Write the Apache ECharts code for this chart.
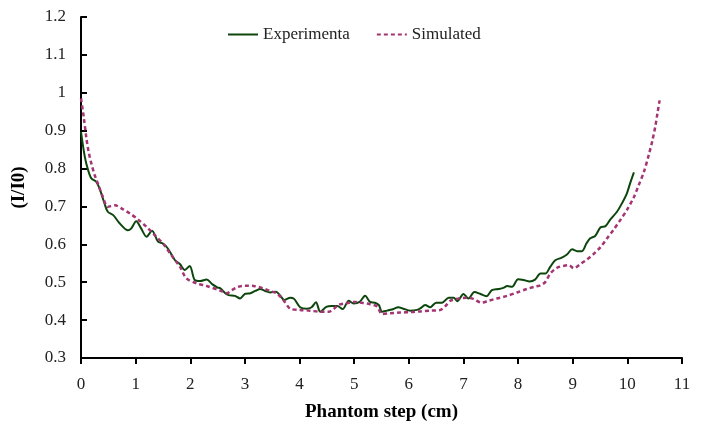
<!DOCTYPE html>
<html lang="en">
<head>
    <meta charset="utf-8">
    <title>Phantom step</title>
    <script src="https://cdn.jsdelivr.net/npm/echarts@6/dist/echarts.min.js"></script>
    <style>
        html, body { margin: 0; padding: 0; background: #fff; }
    </style>
</head>
<body>
<div id="chart" style="width:704px;height:428px;"></div>
<script type="text/javascript">
    // axis ticks
    var xTicks = [0, 1, 2, 3, 4, 5, 6, 7, 8, 9, 10, 11];
    var yTicks = [0.3, 0.4, 0.5, 0.6, 0.7, 0.8, 0.9, 1, 1.1, 1.2];

    var expX = [0, 0.07, 0.13, 0.19, 0.28, 0.34, 0.43, 0.49, 0.59, 0.71, 0.86, 0.92, 1.01, 1.10, 1.20, 1.30,
        1.41, 1.50, 1.59, 1.72, 1.81, 1.90, 1.99, 2.08, 2.18, 2.30, 2.40, 2.50, 2.55, 2.64, 2.70, 2.82, 2.91,
        3.00, 3.10, 3.19, 3.28, 3.37, 3.46, 3.57, 3.64, 3.72, 3.83, 3.90, 4.01, 4.13, 4.22, 4.30, 4.38, 4.49,
        4.59, 4.69, 4.79, 4.90, 4.99, 5.10, 5.20, 5.29, 5.38, 5.45, 5.51, 5.60, 5.69, 5.81, 5.90, 6.03, 6.15,
        6.21, 6.30, 6.39, 6.50, 6.61, 6.73, 6.82, 6.89, 7.00, 7.09, 7.20, 7.31, 7.42, 7.52, 7.64, 7.73, 7.80,
        7.89, 8.00, 8.10, 8.21, 8.31, 8.41, 8.50, 8.59, 8.68, 8.80, 8.90, 8.99, 9.08, 9.17, 9.25, 9.32, 9.41,
        9.51, 9.60, 9.69, 9.81, 9.90, 9.99, 10.05, 10.12];
    var expY = [0.897, 0.831, 0.796, 0.774, 0.765, 0.747, 0.708, 0.686, 0.677, 0.655, 0.637, 0.642, 0.661, 0.642, 0.620, 0.636,
        0.607, 0.602, 0.589, 0.558, 0.548, 0.532, 0.543, 0.506, 0.503, 0.507, 0.495, 0.486, 0.484, 0.471, 0.466, 0.464, 0.457,
        0.469, 0.471, 0.477, 0.482, 0.477, 0.473, 0.475, 0.466, 0.453, 0.459, 0.456, 0.434, 0.430, 0.434, 0.447, 0.422, 0.435,
        0.437, 0.437, 0.429, 0.451, 0.444, 0.448, 0.464, 0.448, 0.446, 0.440, 0.422, 0.425, 0.428, 0.434, 0.430, 0.425, 0.427,
        0.431, 0.440, 0.434, 0.446, 0.446, 0.459, 0.459, 0.450, 0.469, 0.457, 0.474, 0.469, 0.463, 0.479, 0.482, 0.485, 0.490,
        0.488, 0.508, 0.506, 0.502, 0.507, 0.523, 0.523, 0.541, 0.558, 0.565, 0.574, 0.587, 0.582, 0.582, 0.602, 0.616, 0.622,
        0.645, 0.648, 0.666, 0.686, 0.708, 0.734, 0.761, 0.790];

    // simulated curve
    var simX = [0, 0.05, 0.10, 0.14, 0.19, 0.25, 0.32, 0.40, 0.49, 0.62, 0.74, 0.89, 1.04, 1.20, 1.35, 1.50, 1.65,
        1.81, 1.93, 2.12, 2.30, 2.55, 2.67, 2.76, 2.88, 3.00, 3.16, 3.31, 3.46, 3.58, 3.68, 3.74, 3.83, 4.01,
        4.19, 4.38, 4.53, 4.62, 4.71, 4.84, 4.99, 5.14, 5.29, 5.42, 5.51, 5.66, 5.84, 6.03, 6.21, 6.39, 6.58,
        6.67, 6.76, 6.91, 7.06, 7.18, 7.33, 7.46, 7.61, 7.80, 7.98, 8.16, 8.30, 8.41, 8.50, 8.59, 8.71, 8.83,
        8.93, 9.02, 9.14, 9.26, 9.38, 9.51, 9.63, 9.75, 9.87, 9.99, 10.12, 10.21, 10.30, 10.39, 10.46, 10.51,
        10.55, 10.59];
    var simY = [0.985, 0.936, 0.879, 0.844, 0.813, 0.783, 0.756, 0.725, 0.699, 0.703, 0.695, 0.682, 0.666, 0.646, 0.624, 0.602, 0.572,
        0.541, 0.510, 0.497, 0.490, 0.478, 0.471, 0.479, 0.488, 0.491, 0.490, 0.485, 0.477, 0.471, 0.457, 0.446, 0.430, 0.427,
        0.425, 0.422, 0.422, 0.429, 0.440, 0.444, 0.448, 0.446, 0.442, 0.436, 0.416, 0.418, 0.420, 0.421, 0.423, 0.425, 0.427,
        0.437, 0.451, 0.457, 0.459, 0.456, 0.446, 0.451, 0.457, 0.464, 0.473, 0.482, 0.488, 0.492, 0.501, 0.523, 0.538, 0.543,
        0.545, 0.537, 0.548, 0.560, 0.574, 0.593, 0.616, 0.639, 0.664, 0.690, 0.725, 0.757, 0.790, 0.835, 0.875, 0.910,
        0.945, 0.980];

    function pairs(xs, ys) {
        var out = [];
        for (var i = 0; i < xs.length; i++) out.push([xs[i], ys[i]]);
        return out;
    }

    var font = '"Liberation Serif", "Times New Roman", serif';
    var chart = echarts.init(document.getElementById('chart'));

    chart.setOption({
        animation: false,
        backgroundColor: '#fff',
        textStyle: {fontFamily: font},
        grid: {left: 81, right: 22, top: 17, bottom: 70, containLabel: false},
        legend: {
            left: 222,
            top: 21,
            itemWidth: 30,
            itemHeight: 14,
            itemGap: 26,
            itemStyle: {opacity: 0},
            textStyle: {fontFamily: font, fontSize: 17, color: '#222'},
            data: ['Experimenta', 'Simulated']
        },
        xAxis: {
            type: 'value',
            min: xTicks[0],
            max: xTicks[xTicks.length - 1],
            interval: 1,
            name: 'Phantom step (cm)',
            nameLocation: 'middle',
            nameGap: 45,
            nameTextStyle: {fontFamily: font, fontSize: 19, fontWeight: 'bold', color: '#000'},
            axisLine: {show: true, onZero: false, lineStyle: {color: '#000', width: 2}},
            axisTick: {show: true, inside: false, length: 6, lineStyle: {color: '#000', width: 2}},
            axisLabel: {fontFamily: font, fontSize: 17, color: '#222', margin: 18},
            splitLine: {show: false}
        },
        yAxis: {
            type: 'value',
            min: yTicks[0],
            max: yTicks[yTicks.length - 1],
            interval: 0.1,
            name: '(I/I0)',
            nameLocation: 'middle',
            nameRotate: 90,
            nameGap: 52,
            nameTextStyle: {fontFamily: font, fontSize: 19, fontWeight: 'bold', color: '#000'},
            axisLine: {show: true, onZero: false, lineStyle: {color: '#000', width: 2}},
            axisTick: {show: true, inside: true, length: 6, lineStyle: {color: '#000', width: 2}},
            axisLabel: {fontFamily: font, fontSize: 17, color: '#222', margin: 15,
                formatter: function (v) { return String(Math.round(v * 10) / 10); }},
            splitLine: {show: false}
        },
        series: [
            {
                name: 'Experimenta',
                type: 'line',
                data: pairs(expX, expY),
                symbol: 'none',
                smooth: 0.3,
                color: '#0d460d',
                lineStyle: {color: '#0d460d', width: 2}
            },
            {
                name: 'Simulated',
                type: 'line',
                data: pairs(simX, simY),
                symbol: 'none',
                smooth: 0.3,
                color: '#a33573',
                lineStyle: {color: '#a33573', width: 2.5, type: [4, 3]}
            }
        ]
    });
</script>
</body>
</html>
